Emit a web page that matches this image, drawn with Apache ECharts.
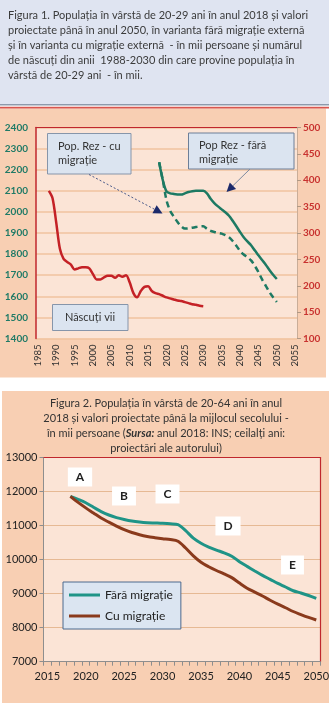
<!DOCTYPE html>
<html>
<head>
<meta charset="utf-8">
<script src="https://cdn.jsdelivr.net/npm/echarts@6/dist/echarts.min.js"></script>
<style>
  html, body { margin: 0; padding: 0; background: #ffffff; }
  #chart { width: 332px; height: 703px; }
</style>
</head>
<body>
<div id="chart"></div>
<script>
// ---------- Figura 1: populația 20-29 ani și născuți vii ----------
const fig1FirstYear = 1985;
const fig1LastYear = 2055;
const fig1LeftTicks = { min: 1400, max: 2400, step: 100 };
const fig1RightTicks = { min: 100, max: 500, step: 50 };

// Născuți vii (mii), 1988-2030
const birthsStart = 1988;
const births = [380, 366, 320, 270, 251, 245, 240, 231, 233, 235,
                235, 233, 222, 212, 212, 216, 219, 219, 215, 220,
                217, 220, 206, 186, 178, 190, 198, 199, 190, 186,
                184, 181, 178, 176, 174, 172, 171, 169, 167, 165,
                164, 162, 161];

// Populația rezidentă 20-29 ani (mii), 2018-2050
const popStart = 2018;
const popFaraMigratie = [2235, 2150, 2097, 2088, 2085, 2083, 2082, 2088, 2094, 2098,
                         2100, 2100, 2100, 2088, 2062, 2042, 2026, 2012, 1998, 1982,
                         1958, 1932, 1905, 1880, 1860, 1842, 1818, 1795, 1772, 1750,
                         1725, 1702, 1682];
const popCuMigratie = [2235, 2150, 2055, 2005, 1978, 1952, 1932, 1921, 1922, 1925,
                       1928, 1931, 1932, 1920, 1910, 1905, 1901, 1897, 1890, 1880,
                       1862, 1840, 1815, 1798, 1785, 1770, 1745, 1715, 1680, 1650,
                       1620, 1595, 1573];

// ---------- Figura 2: populația 20-64 ani ----------
const fig2FirstYear = 2015;
const fig2LastYear = 2050;
const fig2Ticks = { min: 7000, max: 13000, step: 1000 };
const workStart = 2018;
const workFaraMigratie = [11860, 11770, 11670, 11540, 11410, 11310, 11235, 11180, 11135, 11105,
                          11085, 11075, 11065, 11050, 11025, 10850, 10630, 10480, 10370, 10280,
                          10200, 10100, 9940, 9800, 9665, 9535, 9420, 9300, 9195, 9085,
                          9020, 8945, 8861];
const workCuMigratie = [11860, 11680, 11520, 11370, 11220, 11100, 10985, 10880, 10795, 10730,
                        10680, 10645, 10615, 10590, 10540, 10340, 10110, 9920, 9790, 9680,
                        9580, 9470, 9310, 9160, 9045, 8930, 8805, 8690, 8585, 8475,
                        8385, 8300, 8224];

const fig2Letters = ['A', 'B', 'C', 'D', 'E'];

// ---------- helpers ----------
function yearRange(a, b) {
  const out = [];
  for (let y = a; y <= b; y++) out.push(String(y));
  return out;
}
function alignToYears(years, start, values) {
  return years.map(y => {
    const i = +y - start;
    return i >= 0 && i < values.length ? values[i] : null;
  });
}
function arrow(x1, y1, x2, y2, lineColor, dash, headColor) {
  const a = Math.atan2(y2 - y1, x2 - x1);
  const L = 9, W = 4.5;
  const bx = x2 - L * Math.cos(a), by = y2 - L * Math.sin(a);
  const nx = -Math.sin(a), ny = Math.cos(a);
  return [
    { type: 'line', silent: true, z: 50,
      shape: { x1: x1, y1: y1, x2: bx, y2: by },
      style: { stroke: lineColor, lineWidth: 1, lineDash: dash } },
    { type: 'polygon', silent: true, z: 50,
      shape: { points: [[x2, y2], [bx + nx * W, by + ny * W], [bx - nx * W, by - ny * W]] },
      style: { fill: headColor } }
  ];
}
const plain = v => String(v);

const FONT = 'Lato';
const years1 = yearRange(fig1FirstYear, fig1LastYear);
const years2 = yearRange(fig2FirstYear, fig2LastYear);

const PEACH = '#f8cfb3';
const PLOT_BG = '#fbe4d6';
const RED = '#c0272d';

const chart = echarts.init(document.getElementById('chart'), null, { renderer: 'canvas' });

const graphics = [
  // panel backgrounds
  { type: 'rect', z: -10, silent: true, shape: { x: 0, y: 0, width: 329, height: 104 }, style: { fill: '#dfe4f1' } },
  { type: 'rect', z: -9, silent: true, shape: { x: 0, y: 104, width: 329, height: 1.6 }, style: { fill: '#8d99ab' } },
  { type: 'rect', z: -9, silent: true, shape: { x: 0, y: 106.8, width: 329, height: 1.6 }, style: { fill: '#d8554e' } },
  { type: 'rect', z: -10, silent: true, shape: { x: 0, y: 108.4, width: 326, height: 269 }, style: { fill: PEACH } },
  { type: 'rect', z: -10, silent: true, shape: { x: 2, y: 391, width: 327, height: 312 }, style: { fill: PEACH } },

  // Figura 1 title
  { type: 'text', z: 50, silent: true, x: 8, y: 7.5,
    style: {
      text: 'Figura 1. Populația în vârstă de 20-29 ani în anul 2018 și valori\n' +
            'proiectate până în anul 2050, în varianta fără migrație externă\n' +
            'și în varianta cu migrație externă  - în mii persoane și numărul\n' +
            'de născuți din anii  1988-2030 din care provine populația în\n' +
            'vârstă de 20-29 ani  - în mii.',
      font: '11px ' + FONT, fill: '#3b3b3b', lineHeight: 15, verticalAlign: 'top'
    } },

  // annotation boxes, Figura 1
  { type: 'rect', z: 40, silent: true, shape: { x: 47.5, y: 133.5, width: 83.5, height: 40.5 },
    style: { fill: '#dbe4f0', stroke: '#8695aa', lineWidth: 1 } },
  { type: 'text', z: 41, silent: true, x: 58, y: 139,
    style: { text: 'Pop. Rez - cu\nmigrație', font: '11px ' + FONT, fill: '#333', lineHeight: 14, verticalAlign: 'top' } },
  { type: 'rect', z: 40, silent: true, shape: { x: 188.5, y: 133, width: 105.5, height: 36 },
    style: { fill: '#dbe4f0', stroke: '#6d7f98', lineWidth: 1 } },
  { type: 'text', z: 41, silent: true, x: 199, y: 138,
    style: { text: 'Pop Rez - fără\nmigrație', font: '11px ' + FONT, fill: '#333', lineHeight: 14, verticalAlign: 'top' } },
  { type: 'rect', z: 40, silent: true, shape: { x: 52.5, y: 304.5, width: 75.5, height: 26 },
    style: { fill: '#dbe4f0', stroke: '#8695aa', lineWidth: 1 } },
  { type: 'text', z: 41, silent: true, x: 90, y: 317.5,
    style: { text: 'Născuți vii', font: '11px ' + FONT, fill: '#333', align: 'center', verticalAlign: 'middle' } },
  ...arrow(89, 174.5, 162.5, 213.5, '#4a5a8a', [2, 2], '#1c2a6b'),
  ...arrow(250, 169, 226.5, 192, '#7d8aa0', null, '#1c2a6b'),

  // Figura 2 title
  { type: 'text', z: 50, silent: true, x: 166, y: 395.5,
    style: {
      text: 'Figura 2. Populația în vârstă de 20-64 ani în anul\n' +
            '2018 și valori proiectate până la mijlocul secolului -\n' +
            'în mii persoane ({b|Sursa:} anul 2018: INS; ceilalți ani:\n' +
            'proiectări ale autorului)',
      font: '11px ' + FONT, fill: '#333', lineHeight: 15, align: 'center', verticalAlign: 'top',
      rich: { b: { font: 'italic bold 11px ' + FONT, fill: '#333', lineHeight: 15 } }
    } },

  // letters A-E, Figura 2
  ...fig2Letters.map((t, i) => {
    const pos = [[80, 477], [124, 496], [167.5, 494], [228, 526], [292.5, 565]][i];
    return { type: 'text', z: 45, silent: true, x: pos[0], y: pos[1],
      style: { text: t, font: 'bold 12px ' + FONT, fill: '#222', align: 'center', verticalAlign: 'middle',
               backgroundColor: '#ffffff', padding: [4, 8, 3, 8] } };
  })
];

const option = {
  backgroundColor: '#ffffff',
  animation: false,
  textStyle: { fontFamily: FONT },
  graphic: graphics,
  legend: {
    orient: 'vertical',
    left: 63, top: 582,
    padding: [6, 8, 6, 6],
    icon: 'rect',
    itemWidth: 31, itemHeight: 3, itemGap: 7,
    backgroundColor: '#dbe5f1',
    borderColor: '#4d6a8e', borderWidth: 1,
    textStyle: { fontSize: 12, color: '#222', fontFamily: FONT, lineHeight: 14 },
    data: ['Fără migrație', 'Cu migrație']
  },
  grid: [
    { left: 36, top: 127.5, width: 261, height: 211, show: true, backgroundColor: PLOT_BG, borderWidth: 0 },
    { left: 43.5, top: 457.5, width: 279, height: 204.2, show: true, backgroundColor: PLOT_BG, borderWidth: 0 }
  ],
  xAxis: [
    { gridIndex: 0, type: 'category', data: years1, boundaryGap: true,
      axisLine: { show: false }, axisTick: { show: false }, splitLine: { show: false },
      axisLabel: { interval: 4, rotate: 90, fontSize: 9.5, color: '#333', margin: 6, fontFamily: FONT } },
    { gridIndex: 0, type: 'category', data: years1, position: 'top', boundaryGap: true,
      axisLine: { show: true, lineStyle: { color: RED, width: 1.2 } }, axisTick: { show: false }, axisLabel: { show: false } },
    { gridIndex: 1, type: 'category', data: years2, boundaryGap: true,
      axisLine: { show: true, lineStyle: { color: '#8e8e8e', width: 1 } },
      axisTick: { show: true, interval: 0, length: 4, lineStyle: { color: '#8e8e8e' } },
      axisLabel: { interval: 4, fontSize: 11, color: '#222', margin: 9, fontFamily: FONT } },
    { gridIndex: 1, type: 'category', data: years2, position: 'top', boundaryGap: true,
      axisLine: { show: true, lineStyle: { color: RED, width: 1.2 } }, axisTick: { show: false }, axisLabel: { show: false } }
  ],
  yAxis: [
    { gridIndex: 0, type: 'value', min: fig1LeftTicks.min, max: fig1LeftTicks.max, interval: fig1LeftTicks.step,
      axisLine: { show: true, lineStyle: { color: RED, width: 1.5 } }, axisTick: { show: false },
      axisLabel: { formatter: plain, fontSize: 10, fontWeight: 'bold', color: '#1f7a66', margin: 8, fontFamily: FONT },
      splitLine: { show: true, lineStyle: { color: '#f0c39f', width: 1.5 } } },
    { gridIndex: 0, type: 'value', position: 'right', min: fig1RightTicks.min, max: fig1RightTicks.max, interval: fig1RightTicks.step,
      axisLine: { show: true, lineStyle: { color: '#c9ad98', width: 1 } },
      axisTick: { show: true, length: 4, lineStyle: { color: '#b09884' } },
      axisLabel: { formatter: plain, fontSize: 10, fontWeight: 'bold', color: '#c8322f', margin: 6, fontFamily: FONT },
      splitLine: { show: false } },
    { gridIndex: 1, type: 'value', min: fig2Ticks.min, max: fig2Ticks.max, interval: fig2Ticks.step,
      axisLine: { show: true, lineStyle: { color: '#8e8e8e' } },
      axisTick: { show: true, length: 4, lineStyle: { color: '#8e8e8e' } },
      axisLabel: { formatter: plain, fontSize: 11, color: '#222', margin: 6, fontFamily: FONT },
      splitLine: { show: true, lineStyle: { color: '#e6b994', width: 1.2 } } },
    { gridIndex: 1, type: 'value', position: 'right', min: fig2Ticks.min, max: fig2Ticks.max, interval: fig2Ticks.step,
      axisLine: { show: true, lineStyle: { color: RED, width: 1.2 } }, axisTick: { show: false },
      axisLabel: { show: false }, splitLine: { show: false } }
  ],
  series: [
    { name: 'Născuți vii', type: 'line', xAxisIndex: 0, yAxisIndex: 1,
      data: alignToYears(years1, birthsStart, births), smooth: 0.3, symbol: 'none',
      lineStyle: { color: '#c42126', width: 2.5 }, z: 5 },
    { name: 'Pop Rez - fără migrație', type: 'line', xAxisIndex: 0, yAxisIndex: 0,
      data: alignToYears(years1, popStart, popFaraMigratie), smooth: 0.3, symbol: 'none',
      lineStyle: { color: '#1d7a63', width: 2.5 }, z: 5 },
    { name: 'Pop. Rez - cu migrație', type: 'line', xAxisIndex: 0, yAxisIndex: 0,
      data: alignToYears(years1, popStart, popCuMigratie), smooth: 0.3, symbol: 'none',
      lineStyle: { color: '#1d7a63', width: 2.5, type: [6, 4] }, z: 5 },
    { name: 'Fără migrație', type: 'line', xAxisIndex: 2, yAxisIndex: 2,
      data: alignToYears(years2, workStart, workFaraMigratie), smooth: 0.3, symbol: 'none',
      lineStyle: { color: '#1f9487', width: 3 }, itemStyle: { color: '#1f9487' }, z: 5 },
    { name: 'Cu migrație', type: 'line', xAxisIndex: 2, yAxisIndex: 2,
      data: alignToYears(years2, workStart, workCuMigratie), smooth: 0.3, symbol: 'none',
      lineStyle: { color: '#8a3a1c', width: 3 }, itemStyle: { color: '#8a3a1c' }, z: 5 }
  ]
};

chart.setOption(option);
</script>
</body>
</html>
